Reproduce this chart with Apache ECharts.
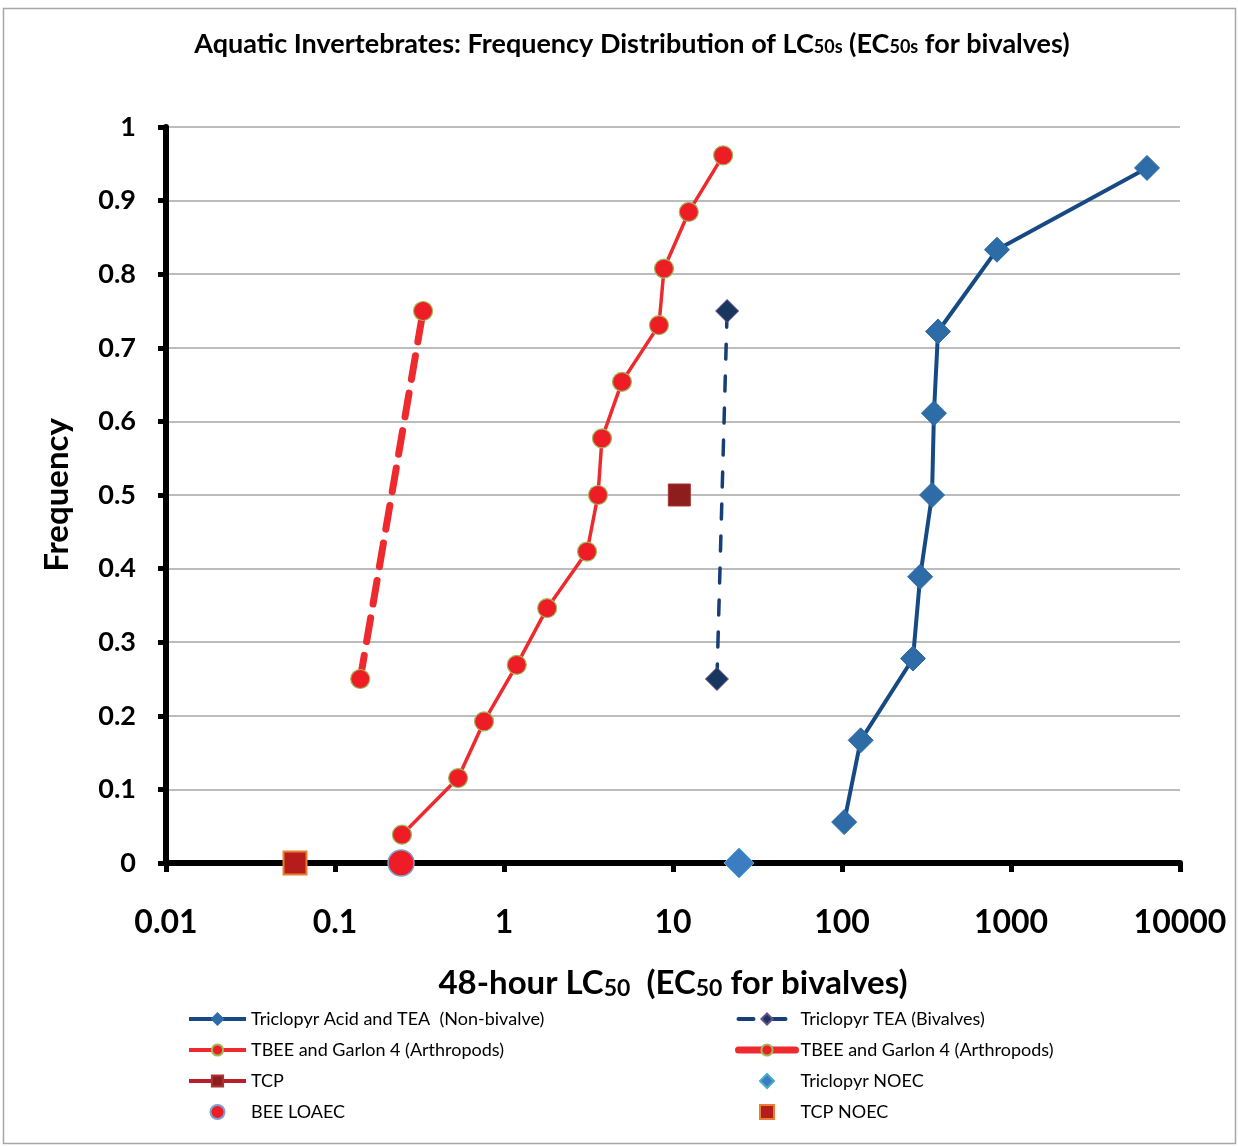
<!DOCTYPE html>
<html>
<head>
<meta charset="utf-8">
<script src="https://cdn.jsdelivr.net/npm/echarts@6/dist/echarts.min.js"></script>
<style>
html,body{margin:0;padding:0;background:#fff;}
#chart{width:1238px;height:1146px;}
</style>
</head>
<body>
<div id="chart"></div>
<script>
// ---- Data ----
var xTickLabels = ["0.01", "0.1", "1", "10", "100", "1000", "10000"];
var yTickLabels = ["0", "0.1", "0.2", "0.3", "0.4", "0.5", "0.6", "0.7", "0.8", "0.9", "1"];

var triclopyrNonBivalveX = [103, 129, 263, 290, 341, 350, 370, 826, 6380];
var triclopyrNonBivalveY = [0.0556, 0.1667, 0.2778, 0.3889, 0.5, 0.6111, 0.7222, 0.8333, 0.9444];

var triclopyrBivalveX = [18.2, 20.9];
var triclopyrBivalveY = [0.25, 0.75];

var tbeeArthropodsX = [0.249, 0.535, 0.762, 1.19, 1.80, 3.10, 3.60, 3.80, 4.99, 8.26, 8.85, 12.4, 19.8];
var tbeeArthropodsY = [0.0385, 0.1154, 0.1923, 0.2692, 0.3462, 0.4231, 0.5, 0.5769, 0.6538, 0.7308, 0.8077, 0.8846, 0.9615];

var tbeeArthropods2X = [0.141, 0.332];
var tbeeArthropods2Y = [0.25, 0.75];

var tcpX = [10.9];
var tcpY = [0.5];

var triclopyrNoecX = [24.6];
var triclopyrNoecY = [0];

var beeLoaecX = [0.246];
var beeLoaecY = [0];

var tcpNoecX = [0.058];
var tcpNoecY = [0];

function pairs(xs, ys) { return xs.map(function (x, i) { return [x, ys[i]]; }); }

var FONT = 'Lato, "Open Sans", sans-serif';

var chart = echarts.init(document.getElementById('chart'), null, { renderer: 'canvas' });

var legendText = { fontFamily: FONT, fontSize: 18, color: '#000', lineHeight: 18 };

var option = {
  backgroundColor: '#ffffff',
  animation: false,
  graphic: [{
    type: 'rect',
    shape: { x: 3.5, y: 8.5, width: 1232, height: 1135 },
    style: { fill: 'none', stroke: '#a6a6a6', lineWidth: 1.5 },
    silent: true,
    z: -10
  }],
  title: {
    text: 'Aquatic Invertebrates: Frequency Distribution of LC{s|50s} (EC{s|50s} for bivalves)',
    left: 627,
    textAlign: 'center',
    top: 26,
    textStyle: {
      fontFamily: FONT, fontSize: 27, fontWeight: 'bold', color: '#000',
      rich: { s: { fontFamily: FONT, fontSize: 18, fontWeight: 'bold', color: '#000', padding: [6, 0, 0, 0] } }
    }
  },
  legend: [{
    orient: 'vertical',
    left: 182,
    top: 1005,
    itemWidth: 57,
    itemHeight: 14,
    itemGap: 13,
    selectedMode: false,
    textStyle: legendText,
    data: [
      { name: 'Triclopyr Acid and TEA  (Non-bivalve)', lineStyle: { width: 4 } },
      { name: 'TBEE and Garlon 4 (Arthropods)', lineStyle: { width: 4 } },
      { name: 'TCP', lineStyle: { width: 4 } },
      { name: 'BEE LOAEC' }
    ]
  }, {
    orient: 'vertical',
    left: 730,
    top: 1005,
    itemWidth: 57,
    itemHeight: 14,
    itemGap: 13,
    selectedMode: false,
    textStyle: legendText,
    data: [
      { name: 'Triclopyr TEA (Bivalves)', lineStyle: { width: 4 } },
      { name: 'TBEE and Garlon 4 (Arthropods) ', lineStyle: { width: 7, type: 'solid' } },
      { name: 'Triclopyr NOEC', icon: 'path://M0,-1L1,0L0,1L-1,0Z' },
      { name: 'TCP NOEC', icon: 'path://M0,0L1,0L1,1L0,1Z' }
    ]
  }],
  grid: { left: 166, right: 58, top: 127, bottom: 283, containLabel: false },
  xAxis: {
    type: 'log',
    logBase: 10,
    min: 0.01,
    max: 10000,
    name: '48-hour LC{s|50}  (EC{s|50} for bivalves)',
    nameLocation: 'middle',
    nameGap: 104,
    nameTextStyle: {
      fontFamily: FONT, fontSize: 33, fontWeight: 'bold', color: '#000',
      rich: { s: { fontFamily: FONT, fontSize: 23, fontWeight: 'bold', color: '#000', padding: [10, 0, 0, 0] } }
    },
    axisLine: { show: true, onZero: false, lineStyle: { color: '#000', width: 6 } },
    axisTick: { show: true, inside: false, length: 9, lineStyle: { color: '#000', width: 5 } },
    axisLabel: {
      margin: 44,
      fontFamily: FONT, fontSize: 32, fontWeight: 'bold', color: '#000',
      formatter: function (v) {
        var e = Math.round(Math.log(v) / Math.LN10);
        return xTickLabels[e + 2];
      }
    },
    splitLine: { show: false },
    minorTick: { show: false }
  },
  yAxis: {
    type: 'value',
    min: 0,
    max: 1,
    interval: 0.1,
    name: 'Frequency',
    nameLocation: 'middle',
    nameGap: 92,
    nameRotate: 90,
    nameTextStyle: { fontFamily: FONT, fontSize: 33, fontWeight: 'bold', color: '#000' },
    axisLine: { show: true, lineStyle: { color: '#000', width: 6 } },
    axisTick: { show: true, inside: false, length: 8, lineStyle: { color: '#000', width: 5 } },
    axisLabel: {
      margin: 30,
      fontFamily: FONT, fontSize: 27, fontWeight: 'bold', color: '#000',
      formatter: function (v) { return yTickLabels[Math.round(v * 10)]; }
    },
    splitLine: { show: true, lineStyle: { color: '#a6a6a6', width: 1.5 } }
  },
  series: [{
    name: 'Triclopyr Acid and TEA  (Non-bivalve)',
    type: 'line',
    data: pairs(triclopyrNonBivalveX, triclopyrNonBivalveY),
    symbol: 'diamond',
    symbolSize: 25,
    lineStyle: { color: '#174a84', width: 4 },
    itemStyle: { color: '#2e6ca8', borderColor: '#2e6ca8', borderWidth: 1 },
    z: 3
  }, {
    name: 'Triclopyr TEA (Bivalves)',
    type: 'line',
    data: pairs(triclopyrBivalveX, triclopyrBivalveY),
    symbol: 'diamond',
    symbolSize: 23,
    lineStyle: { color: '#153f75', width: 3.5, type: [15, 17], cap: 'round' },
    itemStyle: { color: '#17375e', borderColor: '#6a4f8a', borderWidth: 1 },
    z: 3
  }, {
    name: 'TBEE and Garlon 4 (Arthropods)',
    type: 'line',
    data: pairs(tbeeArthropodsX, tbeeArthropodsY),
    symbol: 'circle',
    symbolSize: 19,
    lineStyle: { color: '#ee2a2e', width: 3.5 },
    itemStyle: { color: '#ee1c25', borderColor: '#9bbb59', borderWidth: 1.2 },
    z: 3
  }, {
    name: 'TBEE and Garlon 4 (Arthropods) ',
    type: 'line',
    data: pairs(tbeeArthropods2X, tbeeArthropods2Y),
    symbol: 'circle',
    symbolSize: 19,
    lineStyle: { color: '#ee2a2e', width: 7, type: [24, 14], cap: 'round' },
    itemStyle: { color: '#ee1c25', borderColor: '#9bbb59', borderWidth: 1.2 },
    z: 3
  }, {
    name: 'TCP',
    type: 'line',
    data: pairs(tcpX, tcpY),
    symbol: 'rect',
    symbolSize: 22,
    lineStyle: { color: '#b5202a', width: 4 },
    itemStyle: { color: '#8e1e1e', borderColor: '#a33', borderWidth: 1 },
    z: 3
  }, {
    name: 'Triclopyr NOEC',
    type: 'scatter',
    data: pairs(triclopyrNoecX, triclopyrNoecY),
    symbol: 'diamond',
    symbolSize: 30,
    itemStyle: { color: '#3c7cc2', borderColor: '#4bacc6', borderWidth: 1, opacity: 1 },
    z: 4
  }, {
    name: 'BEE LOAEC',
    type: 'scatter',
    data: pairs(beeLoaecX, beeLoaecY),
    symbol: 'circle',
    symbolSize: 26,
    itemStyle: { color: '#ee1c25', borderColor: '#7f9fcf', borderWidth: 1.5, opacity: 1 },
    z: 4
  }, {
    name: 'TCP NOEC',
    type: 'scatter',
    data: pairs(tcpNoecX, tcpNoecY),
    symbol: 'rect',
    symbolSize: 23,
    itemStyle: { color: '#b71c1c', borderColor: '#e6822f', borderWidth: 2, opacity: 1 },
    z: 4
  }]
};

chart.setOption(option);
</script>
</body>
</html>
